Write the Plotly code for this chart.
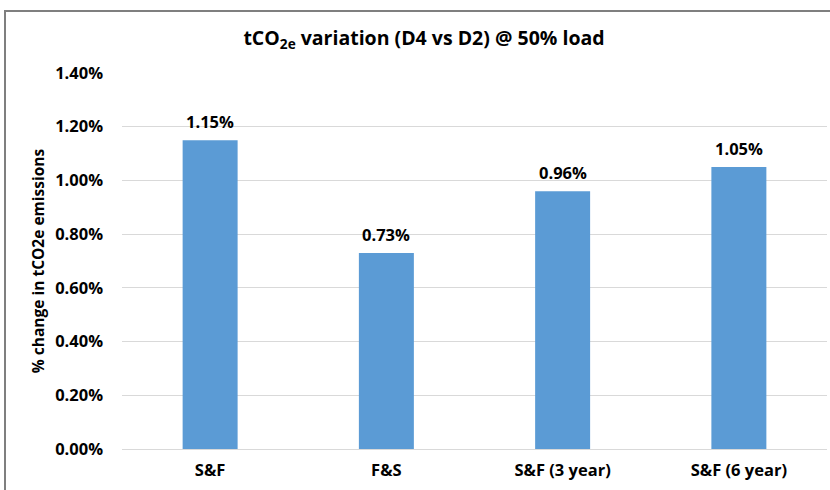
import plotly.graph_objects as go

categories = ["S&F", "F&S", "S&F (3 year)", "S&F (6 year)"]
values = [0.0115, 0.0073, 0.0096, 0.0105]
labels = ["1.15%", "0.73%", "0.96%", "1.05%"]
tick_vals = [0, 0.002, 0.004, 0.006, 0.008, 0.010, 0.012, 0.014]
tick_text = ["0.00%", "0.20%", "0.40%", "0.60%", "0.80%", "1.00%", "1.20%", "1.40%"]

FONT = "Open Sans, Arial, sans-serif"

fig = go.Figure(go.Bar(
    x=categories, y=values, width=0.312,
    marker=dict(color="#5B9BD5", line=dict(width=0)),
))

for c, v, t in zip(categories, values, labels):
    fig.add_annotation(x=c, y=v, text=f"<b>{t}</b>", showarrow=False,
                       yanchor="bottom", yshift=5,
                       font=dict(size=16.5, color="#000000", family=FONT))

ml, mr, mt, mb = 122, 3, 73, 41
W, H = 830, 490
pw, ph = W - ml - mr, H - mt - mb

fig.update_layout(
    width=W, height=H,
    margin=dict(l=ml, r=mr, t=mt, b=mb),
    paper_bgcolor="white", plot_bgcolor="white",
    font=dict(family=FONT, color="#000000"),
    title=dict(text="<b>tCO<sub>2e</sub> variation (D4 vs D2) @ 50% load</b>",
               x=424 / W, xanchor="center", y=1 - 38 / H, yanchor="middle",
               font=dict(size=19.5, family=FONT, color="#000000")),
    showlegend=False,
    xaxis=dict(showgrid=False, showline=False, ticks="", zeroline=False,
               tickfont=dict(size=16.5, family=FONT, color="#000000"),
               ticklabelstandoff=9,
               tickprefix="<b>", ticksuffix="</b>"),
    yaxis=dict(range=[0, 0.014], tickvals=tick_vals, ticktext=[f"<b>{t}</b>" for t in tick_text],
               showgrid=True, gridcolor="#D9D9D9", gridwidth=1,
               zeroline=True, zerolinecolor="#D9D9D9", zerolinewidth=1,
               showline=False, ticks="", ticklabelstandoff=18,
               tickfont=dict(size=16.5, family=FONT, color="#000000"),
               title=dict(text="<b>% change in tCO2e emissions</b>", standoff=6,
                          font=dict(size=15.5, family=FONT, color="#000000"))),
)

# chart-area border (outer frame of the original chart)
x0 = (5 - ml) / pw
x1 = (W + 5 - ml) / pw
y1 = 1 + (mt - 11) / ph
y0 = -(mb + 10) / ph
fig.add_shape(type="rect", xref="paper", yref="paper", x0=x0, x1=x1, y0=y0, y1=y1,
              line=dict(color="#7F7F7F", width=2), fillcolor="rgba(0,0,0,0)", layer="below")

fig.write_html("out.html")
